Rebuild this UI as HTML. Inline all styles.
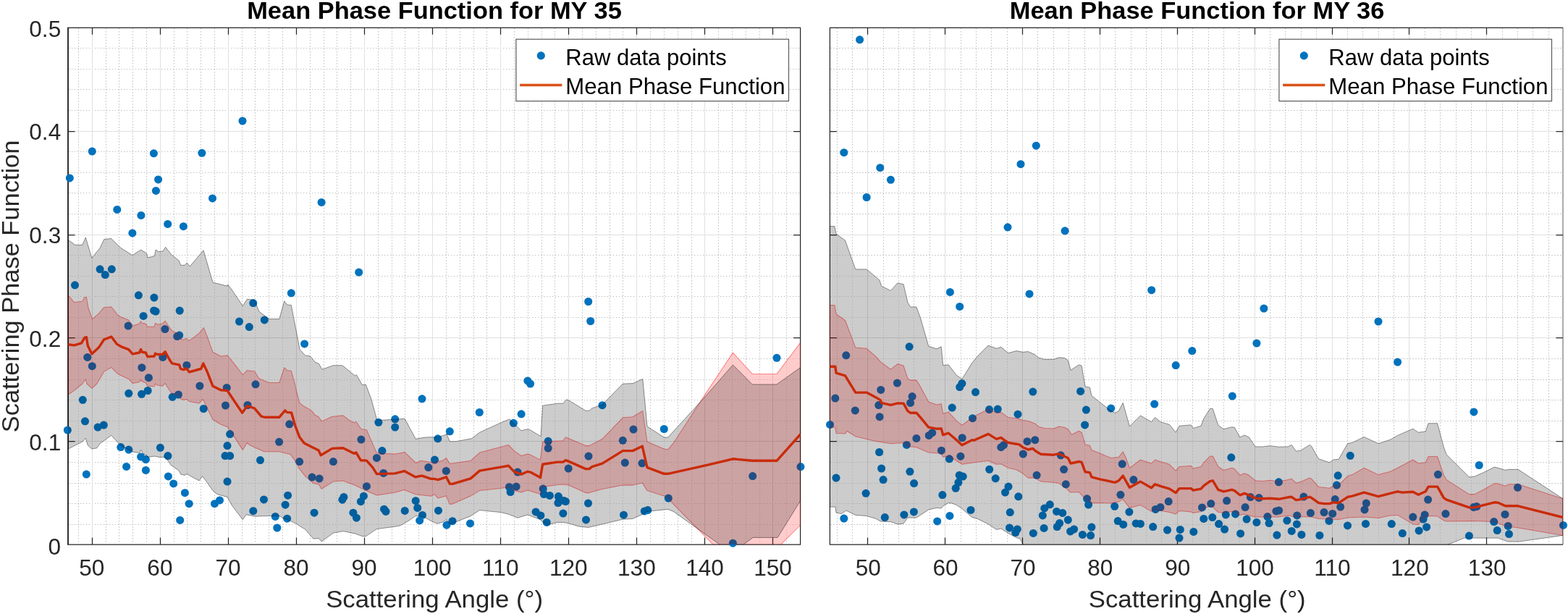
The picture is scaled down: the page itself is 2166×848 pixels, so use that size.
<!DOCTYPE html>
<html lang="en"><head><meta charset="utf-8"><title>Mean Phase Function</title>
<style>
html,body{margin:0;padding:0;background:#fff;}
body{width:2166px;height:848px;overflow:hidden;}
svg{display:block;}
text{font-family:"Liberation Sans",Arial,Helvetica,sans-serif;}
.tk{font-size:31.1px;fill:#262626;}
.lb{font-size:34.0px;fill:#262626;}
.tt{font-size:34.0px;font-weight:bold;fill:#000;}
.lg{font-size:31.1px;fill:#000;}
.mj{stroke:#e0e0e0;stroke-width:1;fill:none;}
.mn{stroke-width:1;stroke-dasharray:1.15 2.85;fill:none;}
.ax{stroke:#262626;stroke-width:1.25;fill:none;}
.d circle{fill:#0072bd;}
.gb{fill:#000;fill-opacity:0.2;stroke:#000;stroke-opacity:0.42;stroke-width:1;stroke-linejoin:round;}
.pb{fill:#f00;fill-opacity:0.2;stroke:#f00;stroke-opacity:0.42;stroke-width:1.05;stroke-linejoin:round;}
.ml{fill:none;stroke:#c92b09;stroke-width:3.4;stroke-linejoin:round;stroke-linecap:butt;}
</style></head><body>
<svg width="2166" height="848" viewBox="0 0 2166 848">
<rect x="0" y="0" width="2166" height="848" fill="#fff"/>
<defs>
<clipPath id="c0"><rect x="94" y="38.3" width="1011.6" height="713.7"/></clipPath>
<polygon id="gp0" points="94,331.3 103.8,338.3 113.8,338.3 118.3,328 126.8,356.3 138.1,342.5 143.8,330.5 153.8,329.5 166.3,342 182.9,352.5 194.6,345 202.6,350 203.9,355.8 213.4,353.8 215.1,345 218.9,347.5 225.1,347 228.6,341.3 236.4,351.3 247.2,360 249.7,366.3 255.2,366.3 258.2,363 262.2,368 281,345.8 294,390.1 314,395.1 314.7,393.1 320.2,400.1 335.3,422.6 341.5,413.1 351.5,414.6 357.8,430.1 371.5,440.6 385.8,440.6 392.8,415.8 396.6,420.9 402.3,421.4 414.1,482.7 421.6,490.9 428.6,491.9 435.4,500.2 440.4,502.2 444.9,510.2 460.4,504.7 472.9,504.7 490.4,518.9 492.4,517.7 500.4,531.5 505.4,531.3 512.9,551.3 520.4,578.8 522.9,580.6 559.2,578.3 574.2,606.3 580.5,605.1 590.5,603.8 605.5,603.8 618,599.6 617,599.4 621.3,609.7 630,609.7 651.3,605.7 662.6,597.2 691.6,583.9 703.9,578.9 720.1,594.7 728.9,592.7 732.6,593.9 747.1,602.7 749.6,560.2 770.2,557.2 777.7,557.2 782.2,551.9 785.4,552.7 809,567.2 814,567.2 817.7,563.9 832,558.9 860.3,530.1 874,529.6 887.8,523.4 894,588.9 917.3,604 922.8,604 975.4,546.4 1012.4,503.9 1039.2,530.9 1073,530.9 1105.6,507.6 1105.6,691.7 1074.2,742.4 1040.1,742.4 1027.3,751.9 1012.4,764.8 994,751.9 930.3,706.4 922.8,703.4 917.3,703.9 894,706.4 887.8,710.2 874,716.4 860.3,717.2 832,723.9 812.7,728.4 800.2,727.2 785.4,722.7 777.7,721.4 770.2,721.4 755.2,725.2 746.4,717.7 728.9,710.9 715.1,715.2 702.6,710.2 691.6,707.6 662.6,704.6 650.1,712.7 625,722.7 621.3,723.9 616.5,717.7 611,721.3 604,723.2 596.5,720.1 585.2,713.8 574,712.6 565.2,718.8 552.7,726.1 545.5,727.3 520.4,730.6 505.4,740.6 500.4,740.6 490.4,736.9 474.1,733.6 460.4,736.1 444.1,747.9 440.4,743.6 432.9,744.1 421.6,731.1 414.1,726.6 410.1,723.8 402.6,720.1 390,715.1 386.3,712.6 365,712.6 352.5,713.2 340,710.7 335.3,717.7 320.2,697.7 314,686.4 300.2,682.7 294,677.7 285.2,665.1 279.4,657.6 275.2,663.9 262.2,657.1 258.2,654.4 255.2,656.4 249.7,655.1 247.2,650.1 236.4,642.6 228.6,631.4 220.1,631.4 213.4,630.1 203.9,631.4 202.6,628.9 197.6,626.4 194.6,621.4 192.6,625.6 182.9,623.9 166.3,615.1 153.8,601.3 138.1,612.6 133.8,618.8 126.8,620.1 121.3,615.1 118.3,605.1 113.8,610.1 94,620.1"/>
<polygon id="pp0" points="94,407.5 102.5,417.5 113.8,416.3 116.9,410.6 119.4,410.6 121.9,425 127.5,440.7 136.3,433.2 143.8,424.4 153.8,423.8 162.6,435 166.3,437.5 177.6,441.9 183.2,450 192.6,446.9 194.5,443.8 196.3,446.3 201.3,446.9 203.8,451.3 213.2,451.3 214.5,446.3 217.6,448.2 224.5,446.9 228.2,443.2 233.9,451.9 237.6,456.9 245.8,460.7 247.6,461.3 249.5,468.2 253.9,469.4 256.4,467.6 258.3,468.2 261.4,470.7 275.2,460.1 281.4,452.5 286.4,465.1 293.9,486.3 305.2,492 313.9,490.7 315.2,492 326.5,506.1 335.3,517.7 341.5,511.4 351.5,512.7 357.8,522.7 371.5,528.5 385.8,528.5 392.8,507.7 396.6,511.4 402.3,512.2 407.8,532 409.4,540 413.8,556.3 420.1,561.3 430.1,566.9 435.1,573.2 440.1,575.7 444.5,581.9 457.6,575.7 465.1,574.4 473.9,573.8 483.9,581.3 488.9,583.8 492,582.5 498.9,592.5 506.4,593.8 520.2,625.1 530.2,626.3 546.4,627 558.9,624.4 574.6,639.5 581.5,636.3 597.7,638.8 611,636.3 616.5,632.6 621.3,640.6 650.1,636.3 662.6,625.1 702.6,614.6 710.1,622.6 720.1,629.6 728.9,627.1 732.6,628.1 746.4,635.1 749.6,610.1 777.7,608.8 781.4,603.8 785.4,605.5 809,615.6 814,615.6 832,606.3 860.3,576.8 874,575.8 887.8,567.5 894,610.1 917.3,620.1 922.8,620.8 930.3,611.8 964.1,560 975.4,542.6 1012.4,487.1 1039.2,516.4 1073,516.4 1105.6,473.3 1105.6,725.5 1078.8,751.9 1074.2,756.4 1040.1,756.4 1012.4,781.3 984.9,751.9 930.3,696.4 922.8,687.6 917.3,685.1 894,677.6 887.3,666.9 874,670.1 860.3,670.1 832,675.6 814,680.6 809,680.6 785.4,670.1 777.7,668.9 770.2,669.4 749.6,672.6 746.4,682.6 728.9,676.9 720.1,680.1 710.1,677.6 702.6,672.6 691.6,674.6 662.6,677.6 650.1,685.1 625,695.9 621.3,696.4 616.5,685.1 605,688.1 600,682.6 595.5,685.2 574.2,682.7 558.5,676.4 545.5,680.2 520.4,683.9 502.9,676.4 490.4,670.2 474.1,663.9 460.4,665.1 444.1,675.2 440.4,668.9 432.9,667.6 421.6,657.6 412.6,646.1 410.1,640.1 401.3,627.6 385,623.8 365,623.8 352.5,618.2 345,614.8 341.5,611.3 335.3,621.4 319,596.1 313.9,589.5 305.2,586.3 293.9,579.5 286.4,563.8 280.2,551.3 275.2,556.9 261.4,554.4 258.3,551.9 256.4,551.3 253.9,552.6 249.5,550.7 247.6,546.3 245.8,545.7 237.6,543.8 233.9,538.8 228.2,529.4 224.5,533.2 217.6,531.9 214.5,530 213.2,533.8 203.8,533.2 201.3,528.8 196.3,526.9 194.5,524.4 192.6,527.5 183.2,529.4 177.6,523.2 170.1,520 162.6,516.3 153.8,507.5 143.8,513.1 133.8,530 126.9,536.3 120,530 118.1,523.8 113.8,530 102.5,539.4 94,545"/>
<mask id="mk0" maskUnits="userSpaceOnUse" x="0" y="0" width="2166" height="848"><rect x="0" y="0" width="2166" height="848" fill="#fff"/><use href="#gp0" fill="#000"/><use href="#pp0" fill="#000"/></mask>
<clipPath id="c1"><rect x="1146.4" y="38.3" width="1012.6" height="713.7"/></clipPath>
<polygon id="gp1" points="1146.4,312.6 1153,312.6 1155,323.1 1167.5,332.1 1181.8,371.9 1197.1,371.9 1210.1,382.7 1215.1,387.2 1217.6,395.2 1230.4,401.4 1240.1,390.7 1248.1,392.7 1253.9,417.7 1257.6,423.9 1265.9,423.9 1271.4,438.8 1282.7,478.1 1293.9,481.8 1300.2,478.8 1302.7,504.6 1310.2,503.8 1321.4,518.3 1328.9,523.4 1342.7,501.3 1350.2,492.1 1365.2,477.1 1376.5,481.3 1382.8,479.3 1392.8,487.6 1404,484.6 1412.8,486.3 1420.3,485.6 1430.3,490.1 1434.1,493.8 1442.8,496.3 1455.3,496.3 1462.8,493.8 1470.3,494.3 1475.3,497.6 1479.1,511.3 1490.4,503.8 1494.1,505.1 1499.1,533.9 1505.4,535.1 1507.9,546.4 1520.4,556.4 1534.7,567.6 1540.4,570.2 1545.4,567.6 1551.2,556.4 1560.4,588.9 1575.4,573.9 1590.5,582.7 1595.5,576.4 1603,582.7 1615.5,586.4 1624.2,597.2 1629,588.2 1645.3,586.9 1648.3,591.4 1659,588.2 1662.8,578.2 1671.5,564.4 1675.3,564.4 1682.8,587.2 1690.3,592.7 1701.6,589.7 1705.3,590.2 1712.8,603.9 1719.1,600.9 1725.4,603.9 1734.1,616.9 1744.1,616.9 1754.1,615.7 1766.6,617.2 1779.2,616.9 1784.2,614.4 1790.4,623.2 1796.7,622.2 1809.2,614.4 1811.7,616.4 1820.4,632 1821.7,633.8 1829.2,636.3 1836.7,638.8 1841.7,635 1849.2,634.3 1861.7,612.5 1868,611.4 1884.3,603.4 1904,612.7 1920.5,607.2 1930.6,601.4 1951.8,592.2 1959.3,597.2 1969.3,595.9 1973.1,584.7 1985.6,584.7 1994.4,617.7 1998.1,627.7 2029.4,658.8 2036.9,658.1 2049.4,652.6 2064.4,645 2069.4,646.3 2079.5,649.3 2084.5,648.3 2097,648.3 2159,688.8 2159,739.4 2098,748.1 2083,748.1 2069.2,743.1 2022.9,743.1 2000.4,751.9 1974.4,770.2 1417.8,770.2 1413.3,751.9 1409,743.9 1404,742.6 1392.8,736.4 1382.8,730.1 1376.5,731.4 1365.2,723.9 1350.2,716.4 1342.7,714.4 1328.9,702.6 1321.4,697.6 1315.2,695.1 1310.2,694.6 1302.7,698.8 1300.2,702.1 1293.9,701.4 1282.7,703.9 1271.4,711.4 1265.9,715.1 1253.9,715.1 1248.1,723.1 1240.1,723.9 1230.4,720.6 1216.3,720.1 1210.1,716.4 1197.1,712.6 1181.8,711.4 1168.8,705.1 1162.5,709.6 1155,708.1 1153.8,700.1 1146.4,700.1"/>
<polygon id="pp1" points="1146.4,421.4 1153,421.4 1155,433.8 1167.5,442.5 1181.8,480.1 1197.1,481.3 1210.1,492.6 1216.3,499.6 1230.4,510.1 1240.1,502.6 1248.1,505.1 1253.9,522.6 1257.6,525.1 1265.9,525.1 1271.4,533.9 1282.7,555.1 1293.9,558.9 1300.2,557.6 1302.7,571.4 1310.2,568.9 1321.4,581.4 1328.9,587.2 1342.7,577.2 1350.2,572.7 1360.2,567.6 1365.2,564.6 1376.5,570.2 1382.8,569.4 1392.8,576.4 1404,577.7 1412.8,580.2 1420.3,581.4 1430.3,585.2 1434.1,588.9 1442.8,591.4 1455.3,591.9 1462.8,588.9 1470.3,590.2 1475.3,592.7 1480.4,600.2 1490.4,595.2 1494.1,597.2 1499.1,613.9 1505.4,615.2 1507.9,621.5 1520.4,626.5 1534.7,632.5 1545.4,631.3 1551.2,623.8 1555.4,632.5 1560.4,646.3 1575.4,635 1590.5,640 1595.5,635 1603,637.5 1615.5,641.3 1624.2,650.1 1629,644.5 1645.3,643.3 1648.3,647 1659,644.5 1662.8,638.8 1671.5,630 1675.3,630 1682.8,644.5 1690.3,649.5 1701.6,646.3 1705.3,647.5 1712.8,656.3 1719.1,653.8 1725.4,656.3 1734.1,663.8 1744.1,664.6 1754.1,663.3 1766.6,665.1 1779.2,662.6 1784.2,661.3 1790.4,667.1 1796.7,665.6 1809.2,660.1 1811.7,661.3 1821.7,672.6 1829.2,673.3 1836.7,674.3 1841.7,671.3 1849.2,670.1 1861.7,657.6 1868,655.6 1884.3,646.3 1904,655.6 1920.5,651.3 1930.6,646.3 1951.8,635 1959.3,640 1969.3,638.8 1973.1,630.5 1985.6,630.5 1994.4,656.3 1998.1,662.6 2029.4,682.6 2036.9,682.6 2049.4,676.3 2064.4,667.6 2069.4,668.1 2079.5,671.3 2084.5,668.8 2097,668.8 2159,688.8 2159,739.6 2097,728.9 2079.5,726.4 2064.4,720.6 2049.4,720.1 2036.9,719.6 2029.4,719.6 1998.1,720.1 1994.4,718.9 1985.6,713.1 1973.1,712.6 1969.3,713.1 1959.3,724.4 1951.8,723.9 1930.6,711.4 1920.5,712.1 1904,715.6 1884.3,713.9 1861.7,715.1 1849.2,717.6 1836.7,716.9 1821.7,716.4 1809.2,713.4 1790.4,713.9 1779.2,712.1 1766.6,713.9 1754.1,713.9 1744.1,713.9 1734.1,713.9 1725.4,711.9 1719.1,710.1 1712.8,711.4 1705.3,706.4 1701.6,706.4 1690.3,708.1 1682.8,707.6 1675.3,700.1 1671.5,698.8 1662.8,702.6 1659,706.4 1648.3,708.4 1645.3,707.1 1629,705.6 1624.2,710.1 1615.5,707.6 1595.5,703.9 1590.5,706.4 1575.4,697.6 1560.4,701.4 1551.2,689.6 1545.4,693.1 1534.7,695.1 1520.4,694.6 1507.9,694.6 1499.1,688.8 1490.4,679.6 1479.1,680.1 1470.3,672.6 1462.8,667.6 1455.3,666.3 1437.8,665.1 1430.3,660.1 1420.3,660.1 1412.8,653.8 1404,648.8 1392.8,646.3 1382.8,640.8 1376.5,641.3 1365.2,636.3 1342.7,639.3 1328.9,641.3 1321.4,636.3 1310.2,630 1302.7,631.3 1300.2,626.3 1282.7,625 1265.9,617.7 1253.9,616.4 1248.1,611.4 1230.4,612.7 1210.1,609.4 1197.1,606.4 1181.8,602.7 1170,595.2 1167.5,598.9 1155,598.2 1153.8,590.2 1146.4,590.2"/>
<mask id="mk1" maskUnits="userSpaceOnUse" x="0" y="0" width="2166" height="848"><rect x="0" y="0" width="2166" height="848" fill="#fff"/><use href="#gp1" fill="#000"/><use href="#pp1" fill="#000"/></mask>
</defs>
<g id="panel1">
<defs><path class="mn" id="mg0" d="M108.5 39.3V751M146.5 39.3V751M164.5 39.3V751M183.5 39.3V751M202.5 39.3V751M240.5 39.3V751M258.5 39.3V751M277.5 39.3V751M296.5 39.3V751M334.5 39.3V751M352.5 39.3V751M371.5 39.3V751M390.5 39.3V751M428.5 39.3V751M447.5 39.3V751M465.5 39.3V751M484.5 39.3V751M522.5 39.3V751M541.5 39.3V751M559.5 39.3V751M578.5 39.3V751M616.5 39.3V751M635.5 39.3V751M654.5 39.3V751M672.5 39.3V751M710.5 39.3V751M729.5 39.3V751M748.5 39.3V751M766.5 39.3V751M804.5 39.3V751M823.5 39.3V751M842.5 39.3V751M860.5 39.3V751M898.5 39.3V751M917.5 39.3V751M936.5 39.3V751M955.5 39.3V751M992.5 39.3V751M1011.5 39.3V751M1030.5 39.3V751M1049.5 39.3V751M1086.5 39.3V751M95 724.5H1104.6M95 695.5H1104.6M95 667.5H1104.6M95 638.5H1104.6M95 581.5H1104.6M95 552.5H1104.6M95 524.5H1104.6M95 495.5H1104.6M95 438.5H1104.6M95 409.5H1104.6M95 381.5H1104.6M95 352.5H1104.6M95 295.5H1104.6M95 266.5H1104.6M95 238.5H1104.6M95 209.5H1104.6M95 152.5H1104.6M95 123.5H1104.6M95 95.5H1104.6M95 66.5H1104.6"/></defs>
<use href="#mg0" stroke="#d0d0d0"/>
<use href="#mg0" stroke="#b9b9b9" mask="url(#mk0)"/>
<path class="mj" d="M127.5 38.3V752M221.5 38.3V752M315.5 38.3V752M409.5 38.3V752M503.5 38.3V752M597.5 38.3V752M691.5 38.3V752M785.5 38.3V752M879.5 38.3V752M973.5 38.3V752M1067.5 38.3V752M94 609.5H1105.6M94 466.5H1105.6M94 324.5H1105.6M94 181.5H1105.6"/>
<path class="ax" d="M94 38.3H1105.6V752H94ZM127.5 752v-9.5M127.5 38.3v9.5M221.5 752v-9.5M221.5 38.3v9.5M315.5 752v-9.5M315.5 38.3v9.5M409.5 752v-9.5M409.5 38.3v9.5M503.5 752v-9.5M503.5 38.3v9.5M597.5 752v-9.5M597.5 38.3v9.5M691.5 752v-9.5M691.5 38.3v9.5M785.5 752v-9.5M785.5 38.3v9.5M879.5 752v-9.5M879.5 38.3v9.5M973.5 752v-9.5M973.5 38.3v9.5M1067.5 752v-9.5M1067.5 38.3v9.5M94 609.5h9.5M1105.6 609.5h-9.5M94 466.5h9.5M1105.6 466.5h-9.5M94 324.5h9.5M1105.6 324.5h-9.5M94 181.5h9.5M1105.6 181.5h-9.5"/>
<path d="M94 37.7V752.6" stroke="#262626" stroke-width="1.7" fill="none"/>
<g class="d" id="dots0">
<circle cx="96.3" cy="245.9" r="5.5"/><circle cx="127.3" cy="209.1" r="5.5"/><circle cx="212.4" cy="211.8" r="5.5"/><circle cx="278.9" cy="211.3" r="5.5"/><circle cx="335" cy="167" r="5.5"/><circle cx="218.6" cy="247.9" r="5.5"/><circle cx="215.4" cy="263.4" r="5.5"/><circle cx="293.5" cy="273.9" r="5.5"/><circle cx="444.1" cy="279.4" r="5.5"/><circle cx="161.8" cy="289.4" r="5.5"/><circle cx="194.9" cy="297.4" r="5.5"/><circle cx="231.7" cy="309.4" r="5.5"/><circle cx="253.4" cy="312.7" r="5.5"/><circle cx="182.9" cy="321.9" r="5.5"/><circle cx="103.5" cy="393.8" r="5.5"/><circle cx="138.1" cy="371.8" r="5.5"/><circle cx="145.3" cy="379.6" r="5.5"/><circle cx="154.3" cy="371.8" r="5.5"/><circle cx="191.4" cy="407.8" r="5.5"/><circle cx="212.9" cy="411.1" r="5.5"/><circle cx="212.6" cy="428.9" r="5.5"/><circle cx="215.1" cy="430.1" r="5.5"/><circle cx="198.1" cy="436.4" r="5.5"/><circle cx="248.2" cy="429.1" r="5.5"/><circle cx="177.1" cy="450.1" r="5.5"/><circle cx="227.9" cy="454.6" r="5.5"/><circle cx="244.7" cy="464.6" r="5.5"/><circle cx="247.7" cy="463.1" r="5.5"/><circle cx="330.5" cy="444.1" r="5.5"/><circle cx="344.3" cy="451.6" r="5.5"/><circle cx="349.8" cy="418.6" r="5.5"/><circle cx="365.3" cy="441.9" r="5.5"/><circle cx="402.3" cy="404.8" r="5.5"/><circle cx="495.7" cy="376.1" r="5.5"/><circle cx="420.6" cy="474.9" r="5.5"/><circle cx="120.8" cy="493.4" r="5.5"/><circle cx="127.3" cy="505.7" r="5.5"/><circle cx="195.9" cy="507.7" r="5.5"/><circle cx="205.4" cy="521.7" r="5.5"/><circle cx="224.9" cy="493.4" r="5.5"/><circle cx="257.9" cy="504.4" r="5.5"/><circle cx="275.9" cy="533" r="5.5"/><circle cx="313.2" cy="535.5" r="5.5"/><circle cx="353" cy="530.8" r="5.5"/><circle cx="114.3" cy="552.3" r="5.5"/><circle cx="177.8" cy="543.3" r="5.5"/><circle cx="195.6" cy="544.3" r="5.5"/><circle cx="204.1" cy="539.5" r="5.5"/><circle cx="238.2" cy="548.3" r="5.5"/><circle cx="246.4" cy="545" r="5.5"/><circle cx="311.5" cy="560" r="5.5"/><circle cx="281.2" cy="564.5" r="5.5"/><circle cx="342" cy="559.5" r="5.5"/><circle cx="583" cy="550.8" r="5.5"/><circle cx="117.5" cy="581.8" r="5.5"/><circle cx="135.1" cy="590.1" r="5.5"/><circle cx="143.3" cy="587.1" r="5.5"/><circle cx="93.3" cy="594.1" r="5.5"/><circle cx="399.8" cy="585.8" r="5.5"/><circle cx="522.9" cy="583.3" r="5.5"/><circle cx="545.7" cy="578.8" r="5.5"/><circle cx="545.7" cy="590.1" r="5.5"/><circle cx="317.7" cy="599.6" r="5.5"/><circle cx="385.6" cy="610.3" r="5.5"/><circle cx="498.9" cy="607.1" r="5.5"/><circle cx="604.8" cy="605.8" r="5.5"/><circle cx="166.8" cy="617.6" r="5.5"/><circle cx="177.8" cy="621.1" r="5.5"/><circle cx="221.4" cy="618.3" r="5.5"/><circle cx="231.9" cy="629.6" r="5.5"/><circle cx="314" cy="615.6" r="5.5"/><circle cx="311" cy="629.6" r="5.5"/><circle cx="317.7" cy="629.6" r="5.5"/><circle cx="194.6" cy="630.9" r="5.5"/><circle cx="201.4" cy="634.6" r="5.5"/><circle cx="359.5" cy="635.6" r="5.5"/><circle cx="413.6" cy="637.6" r="5.5"/><circle cx="460.4" cy="637.6" r="5.5"/><circle cx="527.9" cy="622.6" r="5.5"/><circle cx="520.4" cy="632.4" r="5.5"/><circle cx="600.5" cy="635.1" r="5.5"/><circle cx="591.8" cy="645.6" r="5.5"/><circle cx="616.3" cy="650.4" r="5.5"/><circle cx="174.6" cy="644.4" r="5.5"/><circle cx="201.4" cy="649.4" r="5.5"/><circle cx="119.3" cy="655.1" r="5.5"/><circle cx="232.4" cy="657.9" r="5.5"/><circle cx="239.7" cy="667.9" r="5.5"/><circle cx="314" cy="665.1" r="5.5"/><circle cx="431.1" cy="659.1" r="5.5"/><circle cx="441.1" cy="660.9" r="5.5"/><circle cx="529.7" cy="653.4" r="5.5"/><circle cx="506.4" cy="671.7" r="5.5"/><circle cx="255.4" cy="680.7" r="5.5"/><circle cx="261.2" cy="695.7" r="5.5"/><circle cx="296.5" cy="695.7" r="5.5"/><circle cx="303.5" cy="690.9" r="5.5"/><circle cx="364.5" cy="689.9" r="5.5"/><circle cx="397.6" cy="684.2" r="5.5"/><circle cx="394.1" cy="697.2" r="5.5"/><circle cx="472.9" cy="690.2" r="5.5"/><circle cx="474.9" cy="686.4" r="5.5"/><circle cx="502.4" cy="685.2" r="5.5"/><circle cx="498.4" cy="692.7" r="5.5"/><circle cx="574.2" cy="691.7" r="5.5"/><circle cx="576.7" cy="701.4" r="5.5"/><circle cx="349.8" cy="705.7" r="5.5"/><circle cx="434.1" cy="708.2" r="5.5"/><circle cx="380.3" cy="713.4" r="5.5"/><circle cx="396.6" cy="716.2" r="5.5"/><circle cx="530.5" cy="703.2" r="5.5"/><circle cx="533" cy="706.4" r="5.5"/><circle cx="559.2" cy="705.4" r="5.5"/><circle cx="605.5" cy="705.2" r="5.5"/><circle cx="487.9" cy="708.2" r="5.5"/><circle cx="492.4" cy="715.2" r="5.5"/><circle cx="583.5" cy="711.4" r="5.5"/><circle cx="579.7" cy="718.9" r="5.5"/><circle cx="248.7" cy="718.4" r="5.5"/><circle cx="382.8" cy="729" r="5.5"/><circle cx="621.3" cy="595.8" r="5.5"/><circle cx="617" cy="725.2" r="5.5"/><circle cx="662.3" cy="569.5" r="5.5"/><circle cx="720.1" cy="571.8" r="5.5"/><circle cx="709.4" cy="584.3" r="5.5"/><circle cx="757.2" cy="609.3" r="5.5"/><circle cx="757.2" cy="619.1" r="5.5"/><circle cx="860.3" cy="608.3" r="5.5"/><circle cx="875" cy="593" r="5.5"/><circle cx="917.3" cy="592.5" r="5.5"/><circle cx="715.1" cy="652.1" r="5.5"/><circle cx="785.2" cy="647.1" r="5.5"/><circle cx="813" cy="630.1" r="5.5"/><circle cx="863.3" cy="639.1" r="5.5"/><circle cx="887" cy="639.8" r="5.5"/><circle cx="1106" cy="644.6" r="5.5"/><circle cx="1039.7" cy="657.6" r="5.5"/><circle cx="703.4" cy="672.6" r="5.5"/><circle cx="713.1" cy="672.1" r="5.5"/><circle cx="705.1" cy="679.6" r="5.5"/><circle cx="750.2" cy="675.1" r="5.5"/><circle cx="751.4" cy="682.6" r="5.5"/><circle cx="759.4" cy="684.4" r="5.5"/><circle cx="771.4" cy="685.6" r="5.5"/><circle cx="772.7" cy="690.1" r="5.5"/><circle cx="770.9" cy="694.6" r="5.5"/><circle cx="778.9" cy="691.4" r="5.5"/><circle cx="781.4" cy="692.6" r="5.5"/><circle cx="812.5" cy="695.1" r="5.5"/><circle cx="923.3" cy="688.1" r="5.5"/><circle cx="740.1" cy="706.9" r="5.5"/><circle cx="746.9" cy="711.9" r="5.5"/><circle cx="777.9" cy="709.1" r="5.5"/><circle cx="755.2" cy="721.4" r="5.5"/><circle cx="809.5" cy="717.9" r="5.5"/><circle cx="861.5" cy="711.2" r="5.5"/><circle cx="890.3" cy="705.9" r="5.5"/><circle cx="894.8" cy="704.6" r="5.5"/><circle cx="625" cy="719.7" r="5.5"/><circle cx="649.5" cy="722.9" r="5.5"/><circle cx="1012.4" cy="750.2" r="5.5"/><circle cx="812.7" cy="416.5" r="5.5"/><circle cx="815.7" cy="443.5" r="5.5"/><circle cx="728.9" cy="525.9" r="5.5"/><circle cx="732.6" cy="530.1" r="5.5"/><circle cx="832" cy="559.7" r="5.5"/><circle cx="1073" cy="494.3" r="5.5"/>
</g>
<g clip-path="url(#c0)">
<use href="#pp0" class="pb"/>
<use href="#gp0" class="gb"/>
<use href="#dots0" opacity="0.2"/>
<polyline class="ml" points="94,475.7 102.5,476.9 112.5,473.8 116.9,466.3 119.4,465.7 121.3,477.6 126.9,488.8 136.3,480.1 143.8,468.8 153.8,465.1 161.3,475.1 167.6,478.8 177.6,482.6 183.2,488.8 192.6,487 194.5,482.6 196.3,486.3 201.3,487 203.8,492.6 213.2,492 214.5,488.2 217.6,489.5 224.5,489.5 228.2,485.7 233.9,496.3 237.6,501.9 247.6,503.8 249.5,509.4 253.9,510.6 256.4,508.8 258.3,510 261.4,513.8 275.2,510 277.7,509.4 280.8,501.9 286.4,513.8 293.9,533.2 305.2,538.8 313.9,539.4 315.2,541.3 334.6,570.1 341.5,560.7 351.5,563.8 361,575.1 366.3,576.3 385.7,576.3 393.8,566.9 396.3,569.4 402.6,570 407.6,587.5 413.8,603.8 420.1,611.9 440.1,621.9 443.2,628.8 458.9,619.4 473.9,618.8 488.9,626.3 492,625.1 498.3,635.7 506.4,636.1 515.2,646.1 520.4,654.6 545.5,653.9 558.5,650.6 574.2,658.9 579.2,657.6 583,657.1 595.5,661.4 600,661.4 605,662.6 616.5,658.8 621.3,668.1 625,668.4 650.1,660.9 662.6,650.1 691.6,645.1 702.6,643.3 710.1,651.3 720.1,655.1 728.9,651.3 732.6,652.1 746.4,659.6 749.6,641.3 770.2,638.1 777.7,638.1 781.4,635.6 785.4,637.1 809,647.6 814,647.6 817.7,644.6 832,640.1 860.3,622.6 874,622.6 887.3,616.3 894,645.6 917.3,654.3 922.8,654.3 975.4,642.6 1012.4,633.8 1039.2,636.3 1073,636.3 1105.6,600"/>
</g>
<text class="tk" x="126.8" y="794.9" text-anchor="middle" textLength="35.11" lengthAdjust="spacingAndGlyphs">50</text>
<text class="tk" x="220.9" y="794.9" text-anchor="middle" textLength="35.11" lengthAdjust="spacingAndGlyphs">60</text>
<text class="tk" x="315" y="794.9" text-anchor="middle" textLength="35.11" lengthAdjust="spacingAndGlyphs">70</text>
<text class="tk" x="409" y="794.9" text-anchor="middle" textLength="35.11" lengthAdjust="spacingAndGlyphs">80</text>
<text class="tk" x="503.1" y="794.9" text-anchor="middle" textLength="35.11" lengthAdjust="spacingAndGlyphs">90</text>
<text class="tk" x="597.2" y="794.9" text-anchor="middle" textLength="52.67" lengthAdjust="spacingAndGlyphs">100</text>
<text class="tk" x="691.3" y="794.9" text-anchor="middle" textLength="50.33" lengthAdjust="spacingAndGlyphs">110</text>
<text class="tk" x="785.3" y="794.9" text-anchor="middle" textLength="52.67" lengthAdjust="spacingAndGlyphs">120</text>
<text class="tk" x="879.4" y="794.9" text-anchor="middle" textLength="52.67" lengthAdjust="spacingAndGlyphs">130</text>
<text class="tk" x="973.5" y="794.9" text-anchor="middle" textLength="52.67" lengthAdjust="spacingAndGlyphs">140</text>
<text class="tk" x="1067.5" y="794.9" text-anchor="middle" textLength="52.67" lengthAdjust="spacingAndGlyphs">150</text>
<text class="tk" x="84.2" y="765.9" text-anchor="end" textLength="17.56" lengthAdjust="spacingAndGlyphs">0</text>
<text class="tk" x="84.2" y="621.5" text-anchor="end" textLength="43.88" lengthAdjust="spacingAndGlyphs">0.1</text>
<text class="tk" x="84.2" y="478.8" text-anchor="end" textLength="43.88" lengthAdjust="spacingAndGlyphs">0.2</text>
<text class="tk" x="84.2" y="336" text-anchor="end" textLength="43.88" lengthAdjust="spacingAndGlyphs">0.3</text>
<text class="tk" x="84.2" y="193.3" text-anchor="end" textLength="43.88" lengthAdjust="spacingAndGlyphs">0.4</text>
<text class="tk" x="84.2" y="50.6" text-anchor="end" textLength="43.88" lengthAdjust="spacingAndGlyphs">0.5</text>
<text class="lb" transform="translate(26.2 395.45) rotate(-90)" text-anchor="middle" textLength="403.60" lengthAdjust="spacingAndGlyphs">Scattering Phase Function</text>
<text class="lb" x="600.1" y="839.2" text-anchor="middle" textLength="299.90" lengthAdjust="spacingAndGlyphs">Scattering Angle (°)</text>
<text class="tt" x="600" y="25.8" text-anchor="middle" textLength="517.60" lengthAdjust="spacingAndGlyphs">Mean Phase Function for MY 35</text>
<rect x="712.9" y="54.2" width="376.6" height="85.4" fill="#fff" stroke="#5a5a5a" stroke-width="1.2"/>
<circle cx="747.3" cy="76.9" r="5.6" fill="#0072bd"/>
<path d="M718.1 117.4h58.2" stroke="#d95319" stroke-width="3.5" fill="none"/>
<text class="lg" x="781.3" y="89.8" textLength="222.40" lengthAdjust="spacingAndGlyphs">Raw data points</text>
<text class="lg" x="781.3" y="129.5" textLength="303.20" lengthAdjust="spacingAndGlyphs">Mean Phase Function</text>
</g>
<g id="panel2">
<defs><path class="mn" id="mg1" d="M1156.5 39.3V751M1177.5 39.3V751M1220.5 39.3V751M1241.5 39.3V751M1262.5 39.3V751M1284.5 39.3V751M1327.5 39.3V751M1348.5 39.3V751M1369.5 39.3V751M1391.5 39.3V751M1433.5 39.3V751M1455.5 39.3V751M1476.5 39.3V751M1498.5 39.3V751M1540.5 39.3V751M1562.5 39.3V751M1583.5 39.3V751M1604.5 39.3V751M1647.5 39.3V751M1669.5 39.3V751M1690.5 39.3V751M1711.5 39.3V751M1754.5 39.3V751M1775.5 39.3V751M1797.5 39.3V751M1818.5 39.3V751M1861.5 39.3V751M1882.5 39.3V751M1904.5 39.3V751M1925.5 39.3V751M1968.5 39.3V751M1989.5 39.3V751M2011.5 39.3V751M2032.5 39.3V751M2075.5 39.3V751M2096.5 39.3V751M2117.5 39.3V751M2139.5 39.3V751M1147.4 724.5H2158M1147.4 695.5H2158M1147.4 667.5H2158M1147.4 638.5H2158M1147.4 581.5H2158M1147.4 552.5H2158M1147.4 524.5H2158M1147.4 495.5H2158M1147.4 438.5H2158M1147.4 409.5H2158M1147.4 381.5H2158M1147.4 352.5H2158M1147.4 295.5H2158M1147.4 266.5H2158M1147.4 238.5H2158M1147.4 209.5H2158M1147.4 152.5H2158M1147.4 123.5H2158M1147.4 95.5H2158M1147.4 66.5H2158"/></defs>
<use href="#mg1" stroke="#d0d0d0"/>
<use href="#mg1" stroke="#b9b9b9" mask="url(#mk1)"/>
<path class="mj" d="M1198.5 38.3V752M1305.5 38.3V752M1412.5 38.3V752M1519.5 38.3V752M1626.5 38.3V752M1733.5 38.3V752M1840.5 38.3V752M1946.5 38.3V752M2053.5 38.3V752M1146.4 609.5H2159M1146.4 466.5H2159M1146.4 324.5H2159M1146.4 181.5H2159"/>
<path d="M2159 38.3V752" stroke="#7a7a7a" stroke-width="1.25" fill="none"/>
<path class="ax" d="M2159 752H1146.4V38.3H2159M1198.5 752v-9.5M1198.5 38.3v9.5M1305.5 752v-9.5M1305.5 38.3v9.5M1412.5 752v-9.5M1412.5 38.3v9.5M1519.5 752v-9.5M1519.5 38.3v9.5M1626.5 752v-9.5M1626.5 38.3v9.5M1733.5 752v-9.5M1733.5 38.3v9.5M1840.5 752v-9.5M1840.5 38.3v9.5M1946.5 752v-9.5M1946.5 38.3v9.5M2053.5 752v-9.5M2053.5 38.3v9.5M1146.4 609.5h9.5M2159 609.5h-9.5M1146.4 466.5h9.5M2159 466.5h-9.5M1146.4 324.5h9.5M2159 324.5h-9.5M1146.4 181.5h9.5M2159 181.5h-9.5"/>
<g class="d" id="dots1">
<circle cx="1187.6" cy="54.8" r="5.5"/><circle cx="1165.8" cy="210.7" r="5.5"/><circle cx="1215.8" cy="231.7" r="5.5"/><circle cx="1431.3" cy="201.2" r="5.5"/><circle cx="1410" cy="226.7" r="5.5"/><circle cx="1230.4" cy="248.3" r="5.5"/><circle cx="1197.1" cy="272.5" r="5.5"/><circle cx="1392" cy="313.8" r="5.5"/><circle cx="1471.1" cy="318.8" r="5.5"/><circle cx="1312.4" cy="403.4" r="5.5"/><circle cx="1325.7" cy="423.4" r="5.5"/><circle cx="1422" cy="405.9" r="5.5"/><circle cx="1590.7" cy="400.7" r="5.5"/><circle cx="1256.1" cy="478.8" r="5.5"/><circle cx="1168.8" cy="490.8" r="5.5"/><circle cx="1239.4" cy="529.1" r="5.5"/><circle cx="1216.8" cy="538.4" r="5.5"/><circle cx="1153.8" cy="550.1" r="5.5"/><circle cx="1260.1" cy="547.6" r="5.5"/><circle cx="1257.6" cy="556.4" r="5.5"/><circle cx="1213.8" cy="559.6" r="5.5"/><circle cx="1181.3" cy="566.9" r="5.5"/><circle cx="1215.1" cy="575.7" r="5.5"/><circle cx="1146.5" cy="586.4" r="5.5"/><circle cx="1328.9" cy="529.6" r="5.5"/><circle cx="1325.7" cy="534.6" r="5.5"/><circle cx="1347.5" cy="541.6" r="5.5"/><circle cx="1426.8" cy="541.1" r="5.5"/><circle cx="1492.6" cy="540.4" r="5.5"/><circle cx="1315.2" cy="563.1" r="5.5"/><circle cx="1366.5" cy="565.6" r="5.5"/><circle cx="1378.2" cy="565.1" r="5.5"/><circle cx="1406" cy="572.2" r="5.5"/><circle cx="1343.5" cy="577.7" r="5.5"/><circle cx="1500.4" cy="566.1" r="5.5"/><circle cx="1498.6" cy="586.9" r="5.5"/><circle cx="1534.7" cy="563.9" r="5.5"/><circle cx="1594.7" cy="558.1" r="5.5"/><circle cx="1624.2" cy="504.6" r="5.5"/><circle cx="1646.8" cy="484.6" r="5.5"/><circle cx="1287.7" cy="597.7" r="5.5"/><circle cx="1283.2" cy="601.4" r="5.5"/><circle cx="1265.9" cy="605.4" r="5.5"/><circle cx="1329.2" cy="604.7" r="5.5"/><circle cx="1252.4" cy="614.4" r="5.5"/><circle cx="1419" cy="609.7" r="5.5"/><circle cx="1429.8" cy="607.7" r="5.5"/><circle cx="1382.8" cy="617.7" r="5.5"/><circle cx="1386.5" cy="614.7" r="5.5"/><circle cx="1214.6" cy="624.5" r="5.5"/><circle cx="1300.4" cy="622.2" r="5.5"/><circle cx="1413.3" cy="627" r="5.5"/><circle cx="1326.9" cy="630.2" r="5.5"/><circle cx="1465.3" cy="628.8" r="5.5"/><circle cx="1311.4" cy="633.8" r="5.5"/><circle cx="1550.2" cy="640.8" r="5.5"/><circle cx="1217.6" cy="647" r="5.5"/><circle cx="1256.9" cy="651.3" r="5.5"/><circle cx="1366.7" cy="648.3" r="5.5"/><circle cx="1469.6" cy="648.3" r="5.5"/><circle cx="1432.1" cy="656.3" r="5.5"/><circle cx="1155" cy="660.1" r="5.5"/><circle cx="1220.1" cy="662.6" r="5.5"/><circle cx="1262.6" cy="667.6" r="5.5"/><circle cx="1325.2" cy="656.3" r="5.5"/><circle cx="1330.2" cy="658.1" r="5.5"/><circle cx="1323.9" cy="666.3" r="5.5"/><circle cx="1320.2" cy="674.3" r="5.5"/><circle cx="1375.2" cy="660.8" r="5.5"/><circle cx="1565.9" cy="662.6" r="5.5"/><circle cx="1472.3" cy="668.8" r="5.5"/><circle cx="1393" cy="672.1" r="5.5"/><circle cx="1388.5" cy="680.1" r="5.5"/><circle cx="1196.1" cy="681.3" r="5.5"/><circle cx="1301.9" cy="683.6" r="5.5"/><circle cx="1406.8" cy="685.8" r="5.5"/><circle cx="1547.9" cy="683.3" r="5.5"/><circle cx="1501.6" cy="688.8" r="5.5"/><circle cx="1503.6" cy="697.1" r="5.5"/><circle cx="1614.2" cy="692.6" r="5.5"/><circle cx="1450.3" cy="696.8" r="5.5"/><circle cx="1442.8" cy="701.9" r="5.5"/><circle cx="1539.7" cy="699.3" r="5.5"/><circle cx="1603" cy="700.6" r="5.5"/><circle cx="1596.2" cy="703.4" r="5.5"/><circle cx="1341" cy="704.4" r="5.5"/><circle cx="1262.4" cy="706.9" r="5.5"/><circle cx="1395.3" cy="707.6" r="5.5"/><circle cx="1459.6" cy="706.4" r="5.5"/><circle cx="1467.8" cy="708.4" r="5.5"/><circle cx="1559.9" cy="707.1" r="5.5"/><circle cx="1248.9" cy="710.9" r="5.5"/><circle cx="1440.3" cy="711.9" r="5.5"/><circle cx="1311.9" cy="712.4" r="5.5"/><circle cx="1222.3" cy="714.6" r="5.5"/><circle cx="1165.8" cy="716.1" r="5.5"/><circle cx="1475.3" cy="718.1" r="5.5"/><circle cx="1294.7" cy="719.9" r="5.5"/><circle cx="1544.2" cy="719.6" r="5.5"/><circle cx="1551.7" cy="724.4" r="5.5"/><circle cx="1463.6" cy="722.6" r="5.5"/><circle cx="1460.3" cy="727.6" r="5.5"/><circle cx="1569.2" cy="722.9" r="5.5"/><circle cx="1575.4" cy="723.4" r="5.5"/><circle cx="1592.7" cy="727.6" r="5.5"/><circle cx="1507.9" cy="728.1" r="5.5"/><circle cx="1442.1" cy="729.4" r="5.5"/><circle cx="1394.5" cy="728.9" r="5.5"/><circle cx="1405.3" cy="730.9" r="5.5"/><circle cx="1402.8" cy="735.6" r="5.5"/><circle cx="1483.6" cy="730.9" r="5.5"/><circle cx="1478.6" cy="733.9" r="5.5"/><circle cx="1612.5" cy="732.1" r="5.5"/><circle cx="1427.3" cy="736.4" r="5.5"/><circle cx="1495.4" cy="738.4" r="5.5"/><circle cx="1506.6" cy="739.6" r="5.5"/><circle cx="1745.9" cy="426" r="5.5"/><circle cx="1904" cy="444" r="5.5"/><circle cx="1735.9" cy="474.1" r="5.5"/><circle cx="1930.6" cy="500.1" r="5.5"/><circle cx="1702.3" cy="547.1" r="5.5"/><circle cx="2035.9" cy="568.9" r="5.5"/><circle cx="1700.8" cy="631.8" r="5.5"/><circle cx="1865.2" cy="629.3" r="5.5"/><circle cx="2043.2" cy="642.5" r="5.5"/><circle cx="1848.2" cy="656.8" r="5.5"/><circle cx="1986.4" cy="655.3" r="5.5"/><circle cx="1766.4" cy="665.8" r="5.5"/><circle cx="1846.5" cy="670.1" r="5.5"/><circle cx="2096.5" cy="673.3" r="5.5"/><circle cx="1800.9" cy="686.1" r="5.5"/><circle cx="1727.4" cy="686.6" r="5.5"/><circle cx="1739.1" cy="687.6" r="5.5"/><circle cx="1694.6" cy="691.6" r="5.5"/><circle cx="1844.2" cy="689.6" r="5.5"/><circle cx="1972.6" cy="690.1" r="5.5"/><circle cx="1672.8" cy="695.6" r="5.5"/><circle cx="1660.5" cy="700.9" r="5.5"/><circle cx="1720.1" cy="700.6" r="5.5"/><circle cx="1851.7" cy="700.1" r="5.5"/><circle cx="1887.3" cy="695.1" r="5.5"/><circle cx="1885" cy="703.9" r="5.5"/><circle cx="1762.9" cy="705.9" r="5.5"/><circle cx="1766.6" cy="705.1" r="5.5"/><circle cx="2035.7" cy="700.6" r="5.5"/><circle cx="2039.9" cy="699.6" r="5.5"/><circle cx="1810.4" cy="708.6" r="5.5"/><circle cx="1829" cy="707.6" r="5.5"/><circle cx="1840.7" cy="709.4" r="5.5"/><circle cx="1706.6" cy="709.9" r="5.5"/><circle cx="1693.3" cy="710.9" r="5.5"/><circle cx="1791.7" cy="711.9" r="5.5"/><circle cx="1996.9" cy="709.6" r="5.5"/><circle cx="2079" cy="710.4" r="5.5"/><circle cx="1750.9" cy="713.6" r="5.5"/><circle cx="1951.8" cy="714.1" r="5.5"/><circle cx="1968.1" cy="710.9" r="5.5"/><circle cx="1966.1" cy="717.1" r="5.5"/><circle cx="1662.8" cy="716.4" r="5.5"/><circle cx="1674.8" cy="714.6" r="5.5"/><circle cx="1722.1" cy="717.1" r="5.5"/><circle cx="1777.9" cy="718.9" r="5.5"/><circle cx="1836" cy="719.4" r="5.5"/><circle cx="1735.9" cy="721.4" r="5.5"/><circle cx="1753.1" cy="722.6" r="5.5"/><circle cx="1683.6" cy="723.6" r="5.5"/><circle cx="1791.4" cy="723.9" r="5.5"/><circle cx="1886.5" cy="723.4" r="5.5"/><circle cx="1922.3" cy="723.6" r="5.5"/><circle cx="1861.5" cy="725.9" r="5.5"/><circle cx="2063.7" cy="720.6" r="5.5"/><circle cx="2083.2" cy="726.4" r="5.5"/><circle cx="2159.5" cy="725.4" r="5.5"/><circle cx="1970.6" cy="727.9" r="5.5"/><circle cx="1691.6" cy="731.1" r="5.5"/><circle cx="1630.3" cy="731.4" r="5.5"/><circle cx="1648.8" cy="734.4" r="5.5"/><circle cx="1784.2" cy="733.4" r="5.5"/><circle cx="1960.1" cy="732.9" r="5.5"/><circle cx="2068.2" cy="732.6" r="5.5"/><circle cx="1713.6" cy="736.9" r="5.5"/><circle cx="1937.3" cy="736.6" r="5.5"/><circle cx="1763.9" cy="739.1" r="5.5"/><circle cx="1797.9" cy="738.4" r="5.5"/><circle cx="1822.9" cy="739.4" r="5.5"/><circle cx="2084.5" cy="737.6" r="5.5"/><circle cx="2029.4" cy="740.1" r="5.5"/><circle cx="1629" cy="743.1" r="5.5"/>
</g>
<g clip-path="url(#c1)">
<use href="#pp1" class="pb"/>
<use href="#gp1" class="gb"/>
<use href="#dots1" opacity="0.2"/>
<polyline class="ml" points="1146.4,506.3 1153.8,506.3 1155,515.1 1167.5,518.8 1181.8,542.1 1197.1,542.1 1210.1,548.9 1216.3,552.6 1217.6,556.4 1230.4,559.4 1240.1,556.9 1248.1,557.1 1253.9,567.6 1257.6,570.2 1265.9,570.2 1271.4,576.4 1282.7,590.2 1293.9,592.2 1300.2,591.9 1302.7,600.7 1310.2,598.2 1321.4,607.7 1328.9,614.7 1342.7,607.7 1345.2,608.2 1365.2,599.4 1376.5,606.4 1382.8,604.4 1387.8,608.2 1392.8,611.4 1404,613.2 1407.8,613.9 1412.8,617.7 1420.3,621 1426.5,619.4 1430.3,622.7 1437.8,627.2 1455.3,628.2 1462.8,626.7 1470.3,630.2 1475.3,632.5 1479.1,640 1490.4,637.5 1494.1,638.3 1499.1,651.8 1505.4,652.6 1507.9,658.8 1520.4,662.1 1534.7,665.1 1540.4,666.3 1545.4,663.8 1551.2,657.1 1560.4,673.3 1575.4,665.1 1590.5,673.8 1595.5,668.8 1603,671.3 1615.5,675.1 1624.2,680.6 1629,674.6 1645.3,674.6 1648.3,677.1 1659,675.1 1662.8,670.8 1671.5,664.6 1675.3,663.8 1682.8,676.3 1690.3,678.8 1701.6,676.3 1705.3,677.6 1712.8,683.8 1719.1,681.3 1725.4,683.8 1734.1,688.1 1744.1,688.8 1754.1,688.3 1766.6,689.3 1779.2,686.8 1784.2,686.3 1790.4,690.6 1796.7,689.6 1809.2,686.3 1811.7,687.6 1821.7,694.6 1829.2,695.6 1836.7,695.6 1841.7,693.8 1849.2,694.6 1861.7,686.3 1868,685.1 1884.3,680.1 1904,685.6 1920.5,681.3 1930.6,678.8 1936.8,680.1 1951.8,679.3 1959.3,683.3 1969.3,678.8 1973.1,672.1 1985.6,672.1 1994.4,687.6 1998.1,690.1 2029.4,700.9 2036.9,700.9 2049.4,697.6 2064.4,693.8 2069.4,694.3 2079.5,698.8 2097,698.8 2159,714.6"/>
</g>
<text class="tk" x="1199.2" y="794.9" text-anchor="middle" textLength="35.11" lengthAdjust="spacingAndGlyphs">50</text>
<text class="tk" x="1306.1" y="794.9" text-anchor="middle" textLength="35.11" lengthAdjust="spacingAndGlyphs">60</text>
<text class="tk" x="1413" y="794.9" text-anchor="middle" textLength="35.11" lengthAdjust="spacingAndGlyphs">70</text>
<text class="tk" x="1519.8" y="794.9" text-anchor="middle" textLength="35.11" lengthAdjust="spacingAndGlyphs">80</text>
<text class="tk" x="1626.7" y="794.9" text-anchor="middle" textLength="35.11" lengthAdjust="spacingAndGlyphs">90</text>
<text class="tk" x="1733.6" y="794.9" text-anchor="middle" textLength="52.67" lengthAdjust="spacingAndGlyphs">100</text>
<text class="tk" x="1840.5" y="794.9" text-anchor="middle" textLength="50.33" lengthAdjust="spacingAndGlyphs">110</text>
<text class="tk" x="1947.4" y="794.9" text-anchor="middle" textLength="52.67" lengthAdjust="spacingAndGlyphs">120</text>
<text class="tk" x="2054.2" y="794.9" text-anchor="middle" textLength="52.67" lengthAdjust="spacingAndGlyphs">130</text>
<text class="lb" x="1653.7" y="839.2" text-anchor="middle" textLength="299.90" lengthAdjust="spacingAndGlyphs">Scattering Angle (°)</text>
<text class="tt" x="1653.6" y="25.8" text-anchor="middle" textLength="517.60" lengthAdjust="spacingAndGlyphs">Mean Phase Function for MY 36</text>
<rect x="1766.9" y="54.2" width="376.6" height="85.4" fill="#fff" stroke="#5a5a5a" stroke-width="1.2"/>
<circle cx="1801.3" cy="76.9" r="5.6" fill="#0072bd"/>
<path d="M1772.1 117.4h58.2" stroke="#d95319" stroke-width="3.5" fill="none"/>
<text class="lg" x="1835.3" y="89.8" textLength="222.40" lengthAdjust="spacingAndGlyphs">Raw data points</text>
<text class="lg" x="1835.3" y="129.5" textLength="303.20" lengthAdjust="spacingAndGlyphs">Mean Phase Function</text>
</g>
</svg>
</body></html>
